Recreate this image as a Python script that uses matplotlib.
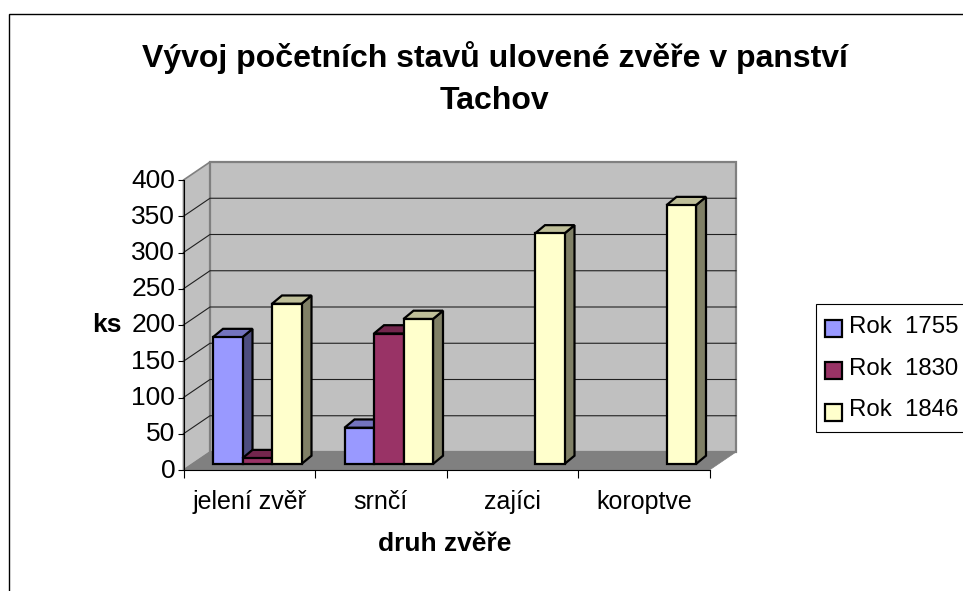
import matplotlib
matplotlib.use("Agg")
import matplotlib.pyplot as plt
from matplotlib.patches import Patch, Rectangle
from matplotlib.legend_handler import HandlerPatch
from matplotlib.transforms import ScaledTranslation
import numpy as np

plt.rcParams['font.family'] = ['Liberation Sans', 'DejaVu Sans']

categories = ['jelení zvěř', 'srnčí', 'zajíci', 'koroptve']
series_names = ['Rok  1755', 'Rok  1830', 'Rok  1846']
rok_1755 = [175, 50, np.nan, np.nan]
rok_1830 = [8, 180, np.nan, np.nan]
rok_1846 = [221, 200, 318, 357]
y_ticks = [0, 50, 100, 150, 200, 250, 300, 350, 400]
title = 'Vývoj početních stavů ulovené zvěře v panství\nTachov'

W, H = 963, 591
fig = plt.figure(figsize=(W / 100, H / 100), dpi=100, facecolor='white')
L, R, B, T = 183.5, 709.5, 470.0, 180.0
ax = fig.add_axes([L / W, 1 - B / H, (R - L) / W, (B - T) / H])
ax.set_xlim(0, 4)
ax.set_ylim(0, 400)
ax.patch.set_visible(False)

ux = (R - L) / 4
uy = (B - T) / 400
WALL_X, WALL_Y = 26.5 / ux, 18 / uy
BAR_BASE = 6 / uy
BAR_START, BAR_W = 29.5 / ux, 29.5 / ux
BAR_DX, BAR_DY = 10 / ux, 8.3 / uy

# walls and floor
wall_kw = dict(clip_on=False, zorder=1)
ax.fill([0, WALL_X, WALL_X, 0], [0, WALL_Y, 400 + WALL_Y, 400], fc='#C0C0C0', ec='#808080', lw=1.2, **wall_kw)
ax.fill([WALL_X, 4 + WALL_X, 4 + WALL_X, WALL_X], [WALL_Y, WALL_Y, 400 + WALL_Y, 400 + WALL_Y],
        fc='#C0C0C0', ec='#808080', lw=1.6, **wall_kw)
ax.fill([0, 4, 4 + WALL_X, WALL_X], [0, 0, WALL_Y, WALL_Y], fc='#808080', ec='#808080', lw=0.5, **wall_kw)
for v in y_ticks[1:-1]:
    ax.plot([0, WALL_X, 4 + WALL_X], [v, v + WALL_Y, v + WALL_Y], color='#202020', lw=0.8, clip_on=False, zorder=2)

colors = [('#9999FF', '#7373BF', '#4D4D80'),
          ('#993366', '#73264D', '#4D1933'),
          ('#FFFFCC', '#BFBF99', '#808066')]
series = [rok_1755, rok_1830, rok_1846]
for c in range(len(categories)):
    for s, values in enumerate(series):
        v = values[c]
        if np.isnan(v):
            continue
        x0 = c + BAR_START + s * BAR_W
        x1 = x0 + BAR_W
        y0 = BAR_BASE
        y1 = BAR_BASE + v
        front, top, side = colors[s]
        kw = dict(ec='black', lw=1.6, joinstyle='miter', clip_on=False, zorder=3 + c * 3 + s)
        ax.fill([x1, x1 + BAR_DX, x1 + BAR_DX, x1], [y0, y0 + BAR_DY, y1 + BAR_DY, y1], fc=side, **kw)
        ax.fill([x0, x1, x1 + BAR_DX, x0 + BAR_DX], [y1, y1, y1 + BAR_DY, y1 + BAR_DY], fc=top, **kw)
        ax.fill([x0, x1, x1, x0], [y0, y0, y1, y1], fc=front, **kw)

# axes
for sp in ['top', 'right']:
    ax.spines[sp].set_visible(False)
for sp in ['left', 'bottom']:
    ax.spines[sp].set_linewidth(0.8)
    ax.spines[sp].set_zorder(30)
ax.set_yticks(y_ticks)
ax.tick_params(axis='y', length=4.5, width=0.8, labelsize=19, pad=1.5)
ax.set_xticks(range(5))
ax.set_xticklabels([])
ax.tick_params(axis='x', which='major', length=5.5, width=0.8)
ax.set_xticks(np.arange(4) + 0.5, minor=True)
ax.set_xticklabels(categories, minor=True)
ax.tick_params(axis='x', which='minor', length=0, labelsize=18, pad=14.5)
lift = ScaledTranslation(0, 2 / 100, fig.dpi_scale_trans)
for lab in ax.get_yticklabels():
    lab.set_transform(lab.get_transform() + lift)

ax.set_xlabel('druh zvěře', fontsize=19, fontweight='bold')
ax.xaxis.set_label_coords((444.5 - L) / (R - L), -(544 - B) / (B - T))
ax.xaxis.label.set_va('center')
ax.set_ylabel('ks', fontsize=19, fontweight='bold', rotation=0, ha='center', va='center')
ax.yaxis.set_label_coords((107 - L) / (R - L), (B - 325) / (B - T))

fig.text(494.5 / W, 1 - 78.5 / H, title, ha='center', va='center', fontsize=23, fontweight='bold', linespacing=1.5)

# chart frame, running off the picture on the right and bottom
fig.add_artist(Rectangle((9 / W, -0.05), 1.1, 1 - 14 / H + 0.05, transform=fig.transFigure,
                         fc='none', ec='black', lw=1.0, zorder=-1))

# legend frame and entries
fig.add_artist(Rectangle((815.7 / W, 1 - 432 / H), 1.0, 128 / H, transform=fig.transFigure,
                         fc='white', ec='black', lw=0.8, zorder=1))


def low_swatch(legend, orig_handle, xdescent, ydescent, width, height, fontsize):
    return Rectangle((-xdescent, -ydescent - 3), width, height)


handles = [Patch(fc=c[0], ec='black', lw=1.6) for c in colors]
leg = fig.legend(handles, series_names, loc='upper left', bbox_to_anchor=(812.7 / W, 1 - 304 / H),
                 bbox_transform=fig.transFigure, fontsize=17.3, frameon=False, borderaxespad=0, borderpad=0.5,
                 handlelength=0.72, handleheight=0.72, handletextpad=0.3, labelspacing=0.82,
                 handler_map={Patch: HandlerPatch(patch_func=low_swatch)})
leg.set_zorder(2)

fig.savefig('out.png', dpi=100)
